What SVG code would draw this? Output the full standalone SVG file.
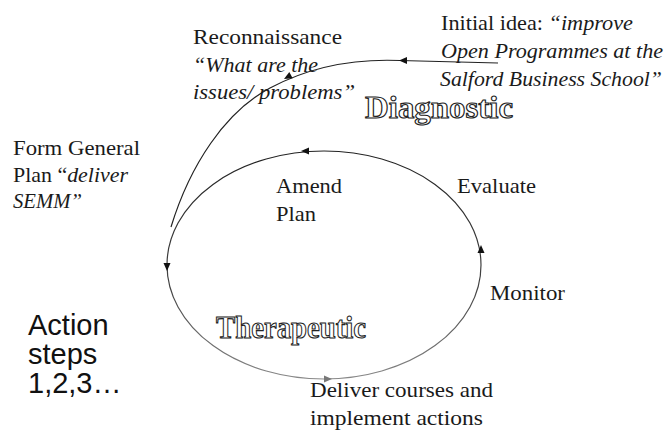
<svg xmlns="http://www.w3.org/2000/svg" width="670" height="430" viewBox="0 0 670 430">
  <style>
    .t { font-family: "Liberation Serif", "Times New Roman", serif; font-size: 22px; fill: #1a1a1a; }
    .i { font-style: italic; }
    .s { font-family: "Liberation Sans", Arial, sans-serif; font-size: 29px; fill: #111; }
    .o { font-family: "Liberation Serif", "Times New Roman", serif; font-weight: bold; fill: #ffffff; stroke: #222; stroke-width: 1.1; }
    .ln { fill: none; stroke: #222; stroke-width: 1.2; }
    .ah { fill: #111; }
  </style>
  <defs>
    <path id="ah" d="M0,0 L-8,-3.5 L-8,3.5 Z"/>
    <linearGradient id="eg" x1="0" y1="0" x2="0" y2="1">
      <stop offset="0" stop-color="#222"/>
      <stop offset="0.6" stop-color="#444"/>
      <stop offset="1" stop-color="#888"/>
    </linearGradient>
  </defs>
  <rect width="670" height="430" fill="#ffffff"/>

  <g id="connectors">
    <g id="cycle">
      <ellipse cx="324" cy="265" rx="157" ry="114" fill="none" stroke="url(#eg)" stroke-width="1.2"/>
      <use href="#ah" class="ah" transform="translate(301,151) rotate(180)"/>
      <use href="#ah" class="ah" transform="translate(167,271) rotate(90)"/>
      <use href="#ah" class="ah" transform="translate(332,379)" style="fill:#777"/>
      <use href="#ah" class="ah" transform="translate(481,245) rotate(-90)"/>
    </g>
    <g id="lead-in">
      <path class="ln" d="M498,63 L400,60.5 C340,58 300,72 270,88 C225,112 190,165 171,227"/>
      <use href="#ah" class="ah" transform="translate(399,60.5) rotate(180)"/>
      <use href="#ah" class="ah" transform="translate(284,79) rotate(151)"/>
    </g>
  </g>

  <g id="initial-idea">
    <text class="t" x="441" y="30" textLength="192" lengthAdjust="spacingAndGlyphs">Initial idea: <tspan class="i">“improve</tspan></text>
    <text class="t i" x="441" y="58" textLength="222" lengthAdjust="spacingAndGlyphs">Open Programmes at the</text>
    <text class="t i" x="440" y="86" textLength="222" lengthAdjust="spacingAndGlyphs">Salford Business School”</text>
  </g>

  <g id="reconnaissance">
    <text class="t" x="193" y="44" textLength="149" lengthAdjust="spacingAndGlyphs">Reconnaissance</text>
    <text class="t i" x="193" y="72" textLength="125" lengthAdjust="spacingAndGlyphs">“What are the</text>
    <text class="t i" x="193" y="99" textLength="162" lengthAdjust="spacingAndGlyphs">issues/ problems”</text>
  </g>

  <g id="diagnostic">
    <text class="o" x="365" y="118" font-size="31" textLength="148" lengthAdjust="spacingAndGlyphs">Diagnostic</text>
  </g>

  <g id="form-plan">
    <text class="t" x="13" y="155" textLength="127" lengthAdjust="spacingAndGlyphs">Form General</text>
    <text class="t" x="13" y="182" textLength="115" lengthAdjust="spacingAndGlyphs">Plan “<tspan class="i">deliver</tspan></text>
    <text class="t i" x="13" y="208" textLength="69" lengthAdjust="spacingAndGlyphs">SEMM”</text>
  </g>

  <g id="amend-plan">
    <text class="t" x="276" y="193" textLength="66" lengthAdjust="spacingAndGlyphs">Amend</text>
    <text class="t" x="276" y="221" textLength="40" lengthAdjust="spacingAndGlyphs">Plan</text>
  </g>

  <g id="evaluate">
    <text class="t" x="457" y="193" textLength="79" lengthAdjust="spacingAndGlyphs">Evaluate</text>
  </g>

  <g id="monitor">
    <text class="t" x="490" y="300" textLength="75" lengthAdjust="spacingAndGlyphs">Monitor</text>
  </g>

  <g id="therapeutic">
    <text class="o" x="216" y="338" font-size="32" textLength="150" lengthAdjust="spacingAndGlyphs">Therapeutic</text>
  </g>

  <g id="deliver">
    <text class="t" x="310" y="397" textLength="183" lengthAdjust="spacingAndGlyphs">Deliver courses and</text>
    <text class="t" x="310" y="425" textLength="173" lengthAdjust="spacingAndGlyphs">implement actions</text>
  </g>

  <g id="action-steps">
    <text class="s" x="28" y="335">Action</text>
    <text class="s" x="28" y="364">steps</text>
    <text class="s" x="28" y="393">1,2,3…</text>
  </g>
</svg>
